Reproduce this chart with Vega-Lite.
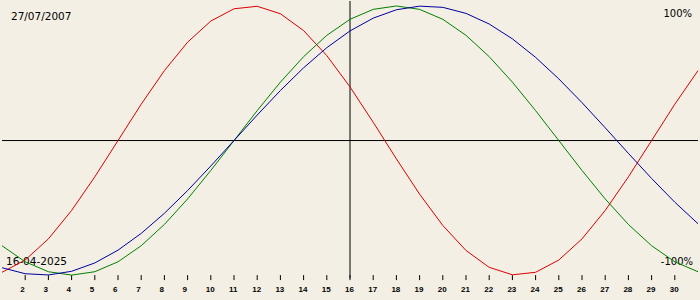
{
  "$schema": "https://vega.github.io/schema/vega-lite/v6.json",
  "width": 700,
  "height": 300,
  "padding": 0,
  "autosize": {"type": "fit", "contains": "padding"},
  "background": "#f3efe4",
  "config": {"view": {"stroke": null}, "text": {"font": "DejaVu Sans"}},
  "datasets": {
    "bio": [
      {"day": 1, "physical": -0.9791, "emotional": -0.7818, "intellectual": -0.9450},
      {"day": 2, "physical": -0.8879, "emotional": -0.9010, "intellectual": -0.9898},
      {"day": 3, "physical": -0.7308, "emotional": -0.9749, "intellectual": -0.9989},
      {"day": 4, "physical": -0.5196, "emotional": -1.0, "intellectual": -0.9718},
      {"day": 5, "physical": -0.2698, "emotional": -0.9749, "intellectual": -0.9096},
      {"day": 6, "physical": 0.0, "emotional": -0.9010, "intellectual": -0.8146},
      {"day": 7, "physical": 0.2698, "emotional": -0.7818, "intellectual": -0.6901},
      {"day": 8, "physical": 0.5196, "emotional": -0.6235, "intellectual": -0.5406},
      {"day": 9, "physical": 0.7308, "emotional": -0.4339, "intellectual": -0.3717},
      {"day": 10, "physical": 0.8879, "emotional": -0.2225, "intellectual": -0.1893},
      {"day": 11, "physical": 0.9791, "emotional": 0.0, "intellectual": 0.0},
      {"day": 12, "physical": 0.9977, "emotional": 0.2225, "intellectual": 0.1893},
      {"day": 13, "physical": 0.9423, "emotional": 0.4339, "intellectual": 0.3717},
      {"day": 14, "physical": 0.8170, "emotional": 0.6235, "intellectual": 0.5406},
      {"day": 15, "physical": 0.6311, "emotional": 0.7818, "intellectual": 0.6901},
      {"day": 16, "physical": 0.3984, "emotional": 0.9010, "intellectual": 0.8146},
      {"day": 17, "physical": 0.1362, "emotional": 0.9749, "intellectual": 0.9096},
      {"day": 18, "physical": -0.1362, "emotional": 1.0, "intellectual": 0.9718},
      {"day": 19, "physical": -0.3984, "emotional": 0.9749, "intellectual": 0.9989},
      {"day": 20, "physical": -0.6311, "emotional": 0.9010, "intellectual": 0.9898},
      {"day": 21, "physical": -0.8170, "emotional": 0.7818, "intellectual": 0.9450},
      {"day": 22, "physical": -0.9423, "emotional": 0.6235, "intellectual": 0.8660},
      {"day": 23, "physical": -0.9977, "emotional": 0.4339, "intellectual": 0.7557},
      {"day": 24, "physical": -0.9791, "emotional": 0.2225, "intellectual": 0.6182},
      {"day": 25, "physical": -0.8879, "emotional": 0.0, "intellectual": 0.4582},
      {"day": 26, "physical": -0.7308, "emotional": -0.2225, "intellectual": 0.2817},
      {"day": 27, "physical": -0.5196, "emotional": -0.4339, "intellectual": 0.0951},
      {"day": 28, "physical": -0.2698, "emotional": -0.6235, "intellectual": -0.0951},
      {"day": 29, "physical": 0.0, "emotional": -0.7818, "intellectual": -0.2817},
      {"day": 30, "physical": 0.2698, "emotional": -0.9010, "intellectual": -0.4582},
      {"day": 31, "physical": 0.5196, "emotional": -0.9749, "intellectual": -0.6182}
    ],
    "ticks": [
      {"day": 2}, {"day": 3}, {"day": 4}, {"day": 5}, {"day": 6}, {"day": 7}, {"day": 8},
      {"day": 9}, {"day": 10}, {"day": 11}, {"day": 12}, {"day": 13}, {"day": 14}, {"day": 15},
      {"day": 16}, {"day": 17}, {"day": 18}, {"day": 19}, {"day": 20}, {"day": 21}, {"day": 22},
      {"day": 23}, {"day": 24}, {"day": 25}, {"day": 26}, {"day": 27}, {"day": 28}, {"day": 29},
      {"day": 30}
    ]
  },
  "layer": [
    {
      "data": {"values": [{"v": 0}]},
      "mark": {"type": "rule", "color": "#000000", "strokeWidth": 1},
      "encoding": {
        "y": {"field": "v", "type": "quantitative", "scale": {"domain": [-1.185, 1.037], "nice": false, "zero": false}, "axis": null}
      }
    },
    {
      "data": {"values": [{"day": 16}]},
      "mark": {"type": "rule", "color": "#000000", "strokeWidth": 1},
      "encoding": {
        "x": {"field": "day", "type": "quantitative", "scale": {"domain": [1, 31], "nice": false, "zero": false}, "axis": null},
        "y": {"datum": 1.037, "type": "quantitative", "scale": {"domain": [-1.185, 1.037], "nice": false, "zero": false}, "axis": null},
        "y2": {"datum": -1.022}
      }
    },
    {
      "data": {"name": "ticks"},
      "mark": {"type": "rule", "color": "#000000", "strokeWidth": 1},
      "encoding": {
        "x": {"field": "day", "type": "quantitative", "scale": {"domain": [1, 31], "nice": false, "zero": false}, "axis": null},
        "y": {"datum": -1.0, "type": "quantitative", "scale": {"domain": [-1.185, 1.037], "nice": false, "zero": false}, "axis": null},
        "y2": {"datum": -1.037}
      }
    },
    {
      "data": {"name": "ticks"},
      "mark": {"type": "text", "color": "#000000", "font": "Liberation Sans", "fontSize": 8, "fontWeight": "bold", "align": "left", "baseline": "middle", "dx": -5},
      "encoding": {
        "x": {"field": "day", "type": "quantitative", "scale": {"domain": [1, 31], "nice": false, "zero": false}, "axis": null},
        "y": {"datum": -1.111, "type": "quantitative", "scale": {"domain": [-1.185, 1.037], "nice": false, "zero": false}, "axis": null},
        "text": {"field": "day", "type": "quantitative"}
      }
    },
    {
      "data": {"values": [
        {"label": "27/07/2007", "pos": "tl"},
        {"label": "100%", "pos": "tr"},
        {"label": "16-04-2025", "pos": "bl"},
        {"label": "-100%", "pos": "br"}
      ]},
      "layer": [
        {
          "transform": [{"filter": "datum.pos == 'tl'"}],
          "mark": {"type": "text", "fontSize": 10.5, "align": "left", "baseline": "middle", "color": "#000000"},
          "encoding": {
            "x": {"datum": 1.386, "type": "quantitative", "scale": {"domain": [1, 31], "nice": false, "zero": false}, "axis": null},
            "y": {"datum": 0.919, "type": "quantitative", "scale": {"domain": [-1.185, 1.037], "nice": false, "zero": false}, "axis": null},
            "text": {"field": "label"}
          }
        },
        {
          "transform": [{"filter": "datum.pos == 'tr'"}],
          "mark": {"type": "text", "fontSize": 10, "align": "right", "baseline": "middle", "color": "#000000"},
          "encoding": {
            "x": {"datum": 30.743, "type": "quantitative", "scale": {"domain": [1, 31], "nice": false, "zero": false}, "axis": null},
            "y": {"datum": 0.941, "type": "quantitative", "scale": {"domain": [-1.185, 1.037], "nice": false, "zero": false}, "axis": null},
            "text": {"field": "label"}
          }
        },
        {
          "transform": [{"filter": "datum.pos == 'bl'"}],
          "mark": {"type": "text", "fontSize": 10.5, "align": "left", "baseline": "middle", "color": "#000000"},
          "encoding": {
            "x": {"datum": 1.171, "type": "quantitative", "scale": {"domain": [1, 31], "nice": false, "zero": false}, "axis": null},
            "y": {"datum": -0.904, "type": "quantitative", "scale": {"domain": [-1.185, 1.037], "nice": false, "zero": false}, "axis": null},
            "text": {"field": "label"}
          }
        },
        {
          "transform": [{"filter": "datum.pos == 'br'"}],
          "mark": {"type": "text", "fontSize": 10, "align": "right", "baseline": "middle", "color": "#000000"},
          "encoding": {
            "x": {"datum": 30.786, "type": "quantitative", "scale": {"domain": [1, 31], "nice": false, "zero": false}, "axis": null},
            "y": {"datum": -0.904, "type": "quantitative", "scale": {"domain": [-1.185, 1.037], "nice": false, "zero": false}, "axis": null},
            "text": {"field": "label"}
          }
        }
      ]
    },
    {
      "data": {"name": "bio"},
      "transform": [{"fold": ["physical", "emotional", "intellectual"], "as": ["series", "value"]}],
      "mark": {"type": "line", "strokeWidth": 1, "interpolate": "linear"},
      "encoding": {
        "x": {"field": "day", "type": "quantitative", "scale": {"domain": [1, 31], "nice": false, "zero": false}, "axis": null},
        "y": {"field": "value", "type": "quantitative", "scale": {"domain": [-1.185, 1.037], "nice": false, "zero": false}, "axis": null},
        "color": {"field": "series", "type": "nominal", "scale": {"domain": ["physical", "emotional", "intellectual"], "range": ["#dd0000", "#008000", "#0000a0"]}, "legend": null},
        "detail": {"field": "series"}
      }
    }
  ]
}
